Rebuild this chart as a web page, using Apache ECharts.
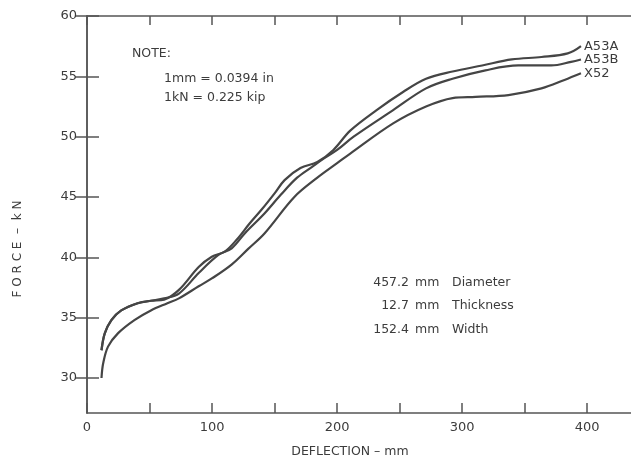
<!DOCTYPE html>
<html>
<head>
<meta charset="utf-8">
<script src="https://cdn.jsdelivr.net/npm/echarts@6/dist/echarts.min.js"></script>
<style>
  html, body { margin: 0; padding: 0; background: #fff; }
  #chart { width: 631px; height: 463px; }
</style>
</head>
<body>
<div id="chart"></div>
<script>
// force-deflection curves: [deflection mm, force kN]
var a53a = [[11.6,32.3],[14.2,33.7],[19.5,34.8],[27.4,35.6],[40.5,36.2],[51.1,36.4],[61.7,36.5],[73.5,37.3],[89.3,39.2],[99.8,40.05],[110.4,40.5],[120,41.5],[130,42.8],[140,44.0],[150,45.3],[158,46.4],[170.7,47.4],[184.2,47.9],[197,48.9],[210.5,50.5],[231.6,52.2],[252.7,53.7],[271.1,54.8],[292.3,55.4],[316,55.9],[339.7,56.4],[363.4,56.6],[384.4,56.9],[395,57.5]];
var a53b = [[11.6,32.3],[14.2,33.7],[19.5,34.8],[27.4,35.6],[40.5,36.2],[51.1,36.4],[61.7,36.6],[73.5,37.0],[89.3,38.7],[105.1,40.2],[115.7,40.75],[126.3,42.0],[142.1,43.65],[155.1,45.2],[168,46.6],[180,47.5],[189.5,48.2],[200,48.9],[213.2,50.0],[244.8,52.2],[271.1,54.0],[292.3,54.8],[318.6,55.5],[344.9,55.9],[371.3,55.9],[387.1,56.2],[395,56.4]];
var x52 = [[11.6,30.0],[12.9,31.2],[16.8,32.6],[24.7,33.7],[37.9,34.8],[51.1,35.6],[64.3,36.2],[73.5,36.6],[89.3,37.6],[99.8,38.25],[115.6,39.4],[128.9,40.7],[142.1,42.0],[165.8,45.0],[184.2,46.6],[200,47.8],[210.5,48.6],[244.8,51.1],[271.1,52.5],[292.3,53.2],[310.7,53.3],[337,53.45],[363.4,54.0],[381.8,54.7],[395,55.25]];

var xTicks = [0,50,100,150,200,250,300,350,400];
var xLabels = [0,100,200,300,400];
var yTicks = [30,35,40,45,50,55,60];

var ink = '#3c3c3c';
var font = 'DejaVu Sans';

var myChart = echarts.init(document.getElementById('chart'));

function curve(name, data) {
  return {
    name: name,
    type: 'line',
    data: data,
    smooth: 0.35,
    symbol: 'none',
    lineStyle: { color: '#454545', width: 2.2 },
    endLabel: {
      show: true,
      formatter: '{a}',
      color: ink,
      fontFamily: font,
      fontSize: 13,
      distance: 3
    }
  };
}

var noteText = function(x, y, s, align) {
  return {
    type: 'text', x: x, y: y,
    style: { text: s, fill: ink, font: '12.5px "' + font + '"', align: align || 'left', verticalAlign: 'middle' }
  };
};

myChart.setOption({
  backgroundColor: '#fff',
  animation: false,
  grid: { left: 87, top: 16, right: -6, bottom: 50 },
  xAxis: [{
    type: 'value', min: 0, max: 435, position: 'bottom',
    axisLine: { show: true, lineStyle: { color: '#555', width: 1.5 } },
    axisTick: { show: true, inside: true, length: 10, customValues: xTicks, lineStyle: { color: '#555', width: 1.5 } },
    axisLabel: { customValues: xLabels, color: ink, fontFamily: font, fontSize: 13, margin: 8 },
    splitLine: { show: false }
  }, {
    type: 'value', min: 0, max: 435, position: 'top',
    axisLine: { show: true, lineStyle: { color: '#555', width: 1.5 } },
    axisTick: { show: true, inside: true, length: 9, customValues: xTicks, lineStyle: { color: '#555', width: 1.5 } },
    axisLabel: { show: false },
    splitLine: { show: false }
  }],
  yAxis: [{
    type: 'value', min: 27.1, max: 60, position: 'left',
    axisLine: { show: true, lineStyle: { color: '#555', width: 1.5 } },
    axisTick: { show: true, inside: true, length: 12, customValues: yTicks, lineStyle: { color: '#555', width: 1.5 } },
    axisLabel: { customValues: yTicks, color: ink, fontFamily: font, fontSize: 13, margin: 10 },
    splitLine: { show: false }
  }, {
    type: 'value', min: 27.1, max: 60, position: 'right',
    axisLine: { show: true, lineStyle: { color: '#555', width: 1.5 } },
    axisTick: { show: true, inside: true, length: 12, customValues: yTicks, lineStyle: { color: '#555', width: 1.5 } },
    axisLabel: { show: false },
    splitLine: { show: false }
  }],
  series: [curve('A53A', a53a), curve('A53B', a53b), curve('X52', x52)],
  graphic: [
    {
      type: 'text', x: 18, y: 249, rotation: Math.PI / 2,
      style: { text: 'F O R C E  –  k N', fill: ink, font: '12px "' + font + '"', align: 'center', verticalAlign: 'middle' }
    },
    {
      type: 'text', x: 350, y: 452,
      style: { text: 'DEFLECTION – mm', fill: ink, font: '12.5px "' + font + '"', align: 'center', verticalAlign: 'middle' }
    },
    noteText(132, 54, 'NOTE:'),
    noteText(164, 79, '1mm = 0.0394 in'),
    noteText(164, 98, '1kN = 0.225 kip'),
    noteText(409, 283, '457.2', 'right'),
    noteText(409, 306, '12.7', 'right'),
    noteText(409, 330, '152.4', 'right'),
    noteText(415, 283, 'mm'),
    noteText(415, 306, 'mm'),
    noteText(415, 330, 'mm'),
    noteText(452, 283, 'Diameter'),
    noteText(452, 306, 'Thickness'),
    noteText(452, 330, 'Width')
  ]
});
</script>
</body>
</html>
